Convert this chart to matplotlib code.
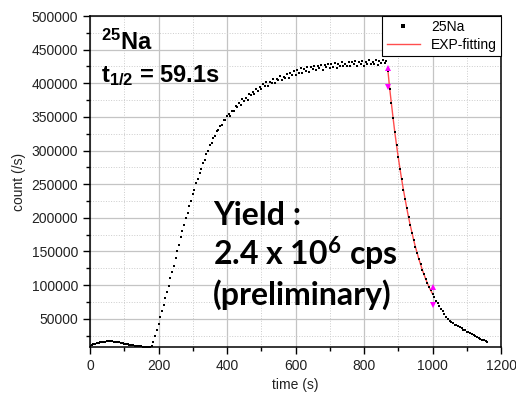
import numpy as np
import matplotlib
matplotlib.use("Agg")
from matplotlib import pyplot as plt
from matplotlib.ticker import MultipleLocator

plt.rcParams['font.family'] = ['Liberation Sans', 'DejaVu Sans']
plt.rcParams['mathtext.fontset'] = 'custom'
plt.rcParams['mathtext.rm'] = 'Liberation Sans'
plt.rcParams['mathtext.bf'] = 'Liberation Sans:bold'
plt.rcParams['mathtext.it'] = 'Liberation Sans:italic'
plt.rcParams['mathtext.sf'] = 'Lato:bold'

# count rate in thousands of counts/s, one point every 5 s
bg_t = np.arange(0, 181, 5)
bg_k = [9.5, 10.8, 11.9, 12.8, 13.6, 14.3, 14.9, 15.4, 15.8, 16.1,
        16.3, 16.4, 16.3, 16.2, 15.9, 15.6, 15.2, 14.7, 14.2, 13.6,
        13.0, 12.4, 11.9, 11.3, 10.8, 10.3, 9.9, 9.5, 9.2, 9.0,
        8.8, 8.7, 8.6, 8.6, 8.5, 8.6, 9.5]

rise_t = np.arange(185, 401, 5)
rise_k = [15, 24, 34, 42, 52, 61, 70, 81, 90, 99,
          111, 120, 129, 141, 150, 159, 171, 180, 189, 200,
          207, 218, 225, 236, 242, 252, 257, 267, 272, 281,
          286, 295, 299, 308, 311, 319, 321, 329, 330, 337,
          338, 345, 345, 352]

plat_t = np.arange(405, 866, 5)
plat_k = [354, 352, 359, 359, 366, 365, 370, 367, 376, 373,
          378, 375, 384, 382, 387, 384, 392, 389, 394, 391,
          399, 396, 402, 396, 402, 400, 406, 400, 407, 405,
          411, 405, 410, 408, 414, 408, 415, 413, 418, 413,
          419, 416, 422, 416, 421, 418, 424, 417, 424, 421,
          426, 420, 425, 422, 427, 420, 427, 424, 429, 423,
          428, 424, 430, 423, 429, 426, 432, 425, 429, 426,
          431, 425, 431, 428, 433, 426, 432, 428, 433, 426,
          432, 429, 434, 428, 432, 429, 434, 427, 433, 430,
          434, 430, 433]

decay_t = np.arange(870, 1161, 5)
decay_k = [418, 392, 370, 348, 327, 308, 290, 273, 257, 242,
           228, 214, 201, 189, 178, 167, 157, 148, 139, 131,
           123, 116, 109, 103, 97, 92, 87, 82, 77, 73,
           69, 65, 61, 57, 53, 50, 47, 45, 43, 41,
           40, 39, 38, 36, 34, 33, 31, 30, 28.5, 27,
           25.5, 24, 22.5, 21, 20, 19, 18, 17, 16]

# fit range = first 27 decay points (870 .. 1000 s)
fit_n = 27

# fit-range markers
range_t = [869, 869, 1000, 1000]
range_k = [423, 394, 97, 70]

time = np.concatenate([bg_t, rise_t, plat_t, decay_t])
count = np.concatenate([bg_k, rise_k, plat_k, decay_k]) * 1000

fig = plt.figure(figsize=(5.16, 3.97), dpi=100)
ax = fig.add_axes([90 / 516, 1 - 347 / 397, 411 / 516, 331 / 397])

fit_line, = ax.plot(decay_t[:fit_n], np.array(decay_k[:fit_n]) * 1000,
                    color='#ff4d4d', lw=1.0, zorder=3)
pts, = ax.plot(time, count, 's', color='black', ms=2.1, mew=0, zorder=4)
ax.plot(range_t[0], range_k[0] * 1000, '^', color='magenta', ms=4, mew=0, zorder=5)
ax.plot(range_t[1], range_k[1] * 1000, 'v', color='magenta', ms=4, mew=0, zorder=5)
ax.plot(range_t[2], range_k[2] * 1000, '^', color='magenta', ms=4, mew=0, zorder=5)
ax.plot(range_t[3], range_k[3] * 1000, 'v', color='magenta', ms=4, mew=0, zorder=5)

ax.set_xlim(0, 1200)
ax.set_ylim(8000, 500000)
ax.xaxis.set_major_locator(MultipleLocator(200))
ax.xaxis.set_minor_locator(MultipleLocator(100))
ax.yaxis.set_major_locator(MultipleLocator(50000))
ax.yaxis.set_minor_locator(MultipleLocator(25000))
ax.grid(which='major', color='#c4c4c4', lw=0.9)
ax.grid(which='minor', color='#cccccc', lw=0.7, ls=':')
ax.set_axisbelow(True)
ax.tick_params(which='both', direction='out', top=False, right=False,
               labelsize=10, labelcolor='#222222', width=1)
ax.tick_params(which='major', length=5)
ax.tick_params(which='minor', length=3)
for s in ax.spines.values():
    s.set_linewidth(1.1)

ax.set_xlabel('time (s)', fontsize=10, color='#222222')
ax.set_ylabel('count (/s)', fontsize=10, color='#222222')

leg = ax.legend([pts, fit_line], ['25Na', 'EXP-fitting'], loc='upper right',
                borderaxespad=0, fontsize=10, numpoints=1, fancybox=False,
                edgecolor='black', framealpha=1, handlelength=2.4, borderpad=0.3,
                labelspacing=0.25, handletextpad=0.8, markerscale=1.1)
leg.get_frame().set_linewidth(0.8)

fig.text(101 / 516, 1 - 50 / 397, r'$\mathbf{^{25}Na}$', fontsize=17,
         fontweight='bold', va='baseline')
fig.text(101 / 516, 1 - 82 / 397, r'$\mathbf{t_{1/2}}$ = 59.1s', fontsize=17,
         fontweight='bold', va='baseline')

fig.text(213 / 516, 1 - 225 / 397, 'Yield :', family='Lato', fontweight='bold',
         fontsize=23, va='baseline')
fig.text(213 / 516, 1 - 266 / 397, r'2.4 x 10$\mathsf{^{6}}$ cps', family='Lato',
         fontweight='bold', fontsize=23, va='baseline')
fig.text(213 / 516, 1 - 305 / 397, '(preliminary)', family='Lato',
         fontweight='bold', fontsize=23, va='baseline')

fig.savefig('out.png', dpi=100)
